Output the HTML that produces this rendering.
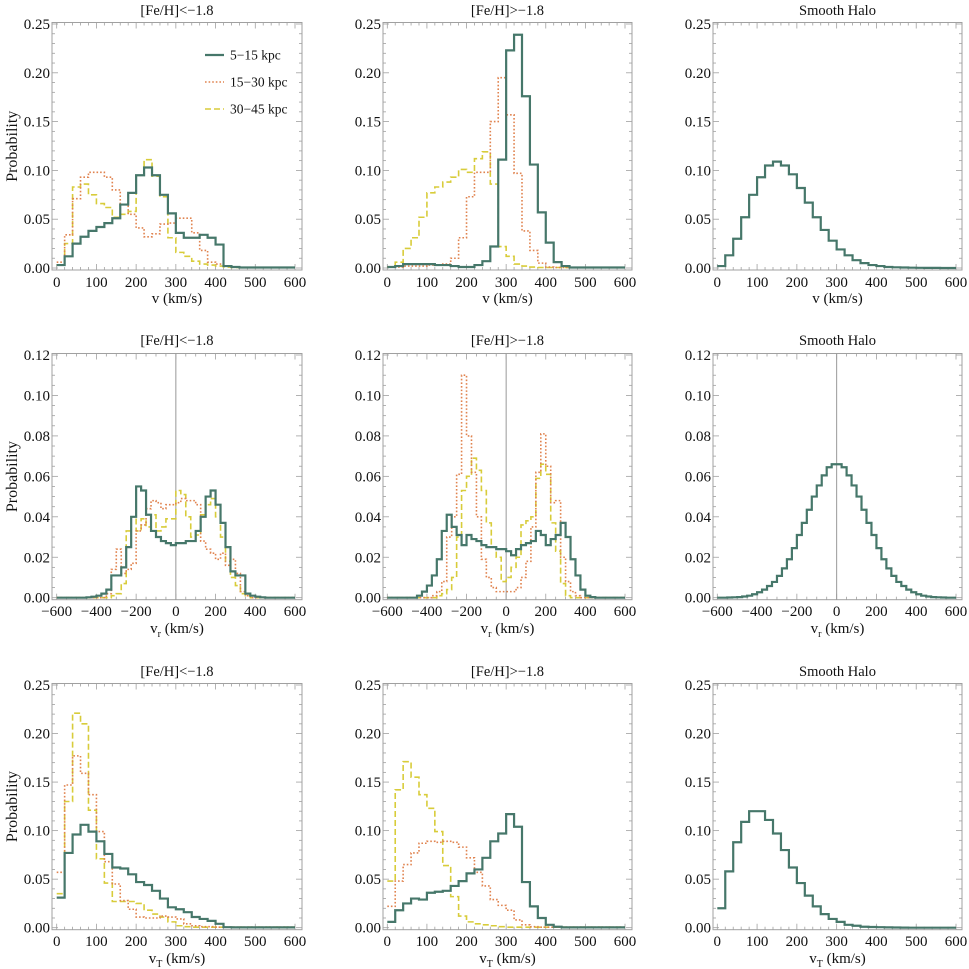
<!DOCTYPE html>
<html><head><meta charset="utf-8"><style>
html,body{margin:0;padding:0;background:#fff;}
svg{display:block;}
svg text{font-family:"Liberation Serif","DejaVu Serif",serif;}
</style></head><body>
<svg id="fig" width="969" height="969" viewBox="0 0 969 969" font-family="Liberation Serif, serif"></svg>
<script>
// ---- data: bin edges start + width ----
const vStart = 0, vWidth = 20;
const vrStart = -600, vrWidth = 25;
const xTicksV = [0,100,200,300,400,500,600];
const xTicksVr = [-600,-400,-200,0,200,400,600];
const yTicksA = [0,0.05,0.10,0.15,0.20,0.25];
const yTicksB = [0,0.02,0.04,0.06,0.08,0.10,0.12];
const seriesNames = ["5\u221215 kpc","15\u221230 kpc","30\u221245 kpc"];
const panelTitles = ["[Fe/H]<\u22121.8","[Fe/H]>\u22121.8","Smooth Halo"];

// row 1: v
const vPoorNear = [0.003,0.012,0.025,0.032,0.038,0.042,0.046,0.051,0.065,0.077,0.095,0.103,0.095,0.075,0.056,0.036,0.031,0.031,0.034,0.031,0.024,0.002,0.001,0.0005,0.0005,0.0005,0.0005,0.0005,0.0005,0.0005];
const vPoorMid = [0.006,0.034,0.071,0.093,0.098,0.098,0.093,0.080,0.065,0.055,0.041,0.032,0.035,0.045,0.046,0.051,0.051,0.036,0.018,0.006,0.004,0.002,0.001,0.0005,0.0005,0.0005,0.0005,0.0005,0.0005,0.0005];
const vPoorFar = [0.003,0.025,0.083,0.086,0.075,0.066,0.062,0.052,0.055,0.058,0.095,0.111,0.094,0.073,0.031,0.016,0.012,0.007,0.004,0.003,0.002,0.001,0.0005,0.0005,0.0005,0.0005,0.0005,0.0005,0.0005,0.0005];
const vRichNear = [0.001,0.002,0.004,0.004,0.004,0.004,0.003,0.003,0.002,0.001,0.001,0.003,0.007,0.022,0.111,0.223,0.239,0.176,0.106,0.057,0.026,0.006,0.002,0.0005,0.0005,0.0005,0.0005,0.0005,0.0005,0.0005];
const vRichMid = [0.001,0.001,0.002,0.002,0.002,0.003,0.003,0.004,0.010,0.031,0.073,0.098,0.098,0.150,0.195,0.157,0.097,0.038,0.018,0.005,0.001,0.0005,0.0005,0.0005,0.0005,0.0005,0.0005,0.0005,0.0005,0.0005];
const vRichFar = [0.001,0.006,0.020,0.031,0.052,0.077,0.083,0.088,0.093,0.101,0.098,0.112,0.119,0.086,0.022,0.012,0.004,0.002,0.001,0.0005,0.0005,0.0005,0.0005,0.0005,0.0005,0.0005,0.0005,0.0005,0.0005,0.0005];
const vSmooth = [0.002,0.013,0.030,0.052,0.075,0.093,0.105,0.109,0.105,0.096,0.082,0.067,0.052,0.039,0.028,0.019,0.013,0.008,0.005,0.003,0.002,0.001,0.0007,0.0005,0.0003,0.0002,0.0001,0.0001,0,0];

// row 2: vr (48 bins from -600)
const vrPoorNear = [0,0,0,0,0,0,0.0002,0.0005,0.001,0.002,0.004,0.011,0.011,0.015,0.025,0.040,0.055,0.053,0.041,0.033,0.030,0.028,0.027,0.026,0.027,0.027,0.028,0.028,0.033,0.040,0.050,0.053,0.046,0.037,0.025,0.013,0.011,0.011,0.002,0.001,0.0005,0.0002,0,0,0,0,0,0];
const vrPoorMid = [0,0,0,0,0,0,0,0,0,0,0.002,0.014,0.024,0.012,0.014,0.017,0.033,0.036,0.044,0.048,0.047,0.044,0.046,0.046,0.047,0.049,0.048,0.048,0.046,0.028,0.024,0.022,0.019,0.022,0.016,0.019,0.012,0.003,0.001,0,0,0,0,0,0,0,0,0];
const vrPoorFar = [0,0,0,0,0,0,0,0,0,0,0,0.001,0.002,0.007,0.033,0.040,0.033,0.039,0.035,0.041,0.033,0.035,0.039,0.039,0.053,0.051,0.040,0.030,0.031,0.041,0.046,0.049,0.040,0.030,0.018,0.010,0.006,0.002,0.001,0,0,0,0,0,0,0,0,0];
const vrRichNear = [0,0,0,0,0,0,0.001,0.003,0.006,0.011,0.019,0.033,0.041,0.035,0.031,0.026,0.031,0.029,0.028,0.026,0.025,0.025,0.024,0.024,0.023,0.021,0.024,0.026,0.027,0.028,0.033,0.031,0.026,0.029,0.031,0.037,0.030,0.019,0.011,0.004,0.001,0.0003,0,0,0,0,0,0];
const vrRichMid = [0,0,0,0,0,0,0,0,0,0.001,0.003,0.008,0.030,0.040,0.061,0.110,0.080,0.062,0.040,0.019,0.010,0.005,0.003,0.003,0.003,0.003,0.005,0.010,0.018,0.035,0.062,0.081,0.065,0.047,0.048,0.020,0.008,0.003,0.001,0,0,0,0,0,0,0,0,0];
const vrRichFar = [0,0,0,0,0,0,0,0,0,0,0.001,0.002,0.004,0.010,0.030,0.053,0.060,0.069,0.063,0.053,0.037,0.025,0.020,0.008,0.010,0.015,0.020,0.036,0.038,0.040,0.059,0.066,0.061,0.037,0.023,0.007,0.001,0,0,0,0,0,0,0,0,0,0,0];
const vrSmooth = [0,0,0.0001,0.0002,0.0003,0.0006,0.001,0.0017,0.0027,0.004,0.0058,0.0078,0.0108,0.0145,0.019,0.0245,0.031,0.037,0.0435,0.050,0.0555,0.0605,0.0645,0.066,0.066,0.0645,0.0605,0.0555,0.050,0.0435,0.037,0.031,0.0245,0.019,0.0145,0.0108,0.0078,0.0058,0.004,0.0027,0.0017,0.001,0.0006,0.0003,0.0002,0.0001,0,0];

// row 3: vT
const vtPoorNear = [0.031,0.077,0.096,0.106,0.099,0.089,0.076,0.062,0.061,0.055,0.047,0.044,0.038,0.030,0.021,0.019,0.016,0.011,0.009,0.007,0.004,0.0005,0.0003,0.0003,0.0003,0.0003,0.0003,0.0003,0.0003,0.0003];
const vtPoorMid = [0.057,0.147,0.177,0.159,0.137,0.099,0.068,0.045,0.028,0.019,0.011,0.010,0.010,0.012,0.011,0.009,0.004,0.002,0.001,0.001,0.0005,0.0005,0.0005,0.0005,0.0005,0.0005,0.0005,0.0005,0.0005,0.0005];
const vtPoorFar = [0.035,0.130,0.221,0.210,0.121,0.071,0.046,0.027,0.027,0.027,0.025,0.018,0.014,0.011,0.006,0.002,0.001,0.0005,0.0005,0.0005,0.0005,0.0005,0.0005,0.0005,0.0005,0.0005,0.0005,0.0005,0.0005,0.0005];
const vtRichNear = [0.006,0.018,0.025,0.030,0.029,0.036,0.037,0.038,0.043,0.048,0.056,0.060,0.072,0.089,0.097,0.117,0.104,0.047,0.022,0.010,0.003,0.001,0.0003,0.0003,0.0003,0.0003,0.0003,0.0003,0.0003,0.0003];
const vtRichMid = [0.022,0.048,0.065,0.077,0.087,0.089,0.088,0.089,0.088,0.083,0.072,0.057,0.043,0.029,0.023,0.018,0.008,0.003,0.001,0.0005,0.0005,0.0005,0.0005,0.0005,0.0005,0.0005,0.0005,0.0005,0.0005,0.0005];
const vtRichFar = [0.048,0.142,0.171,0.155,0.137,0.123,0.099,0.064,0.032,0.012,0.006,0.004,0.003,0.002,0.001,0.0005,0.0005,0.0005,0.0005,0.0005,0.0005,0.0005,0.0005,0.0005,0.0005,0.0005,0.0005,0.0005,0.0005,0.0005];
const vtSmooth = [0.020,0.058,0.088,0.109,0.120,0.120,0.111,0.097,0.080,0.062,0.046,0.033,0.022,0.014,0.009,0.006,0.003,0.002,0.001,0.0007,0.0005,0.0003,0.0002,0.0001,0,0,0,0,0,0];

// ---- layout ----
const NS = "http://www.w3.org/2000/svg";
const svg = document.getElementById('fig');
const FONT = "Liberation Serif, serif";
const cols = [
  {x0:56.7, x1:295, fl:52, fr:302},
  {x0:387.3, x1:625, fl:383, fr:632},
  {x0:717.3, x1:956, fl:713, fr:962}
];
const rows = [
  {y0:268, y1:24, ft:22.5, fb:270, ymax:0.25, yt:yTicksA, ymin:0.01, dec:2, xmin:0, xmax:600, xt:xTicksV, xminor:20, start:vStart, w:vWidth, title:10, xlab:282, xtitle:298, xsub:null},
  {y0:597.7, y1:355, ft:353.5, fb:599.7, ymax:0.12, yt:yTicksB, ymin:0.005, dec:2, xmin:-600, xmax:600, xt:xTicksVr, xminor:50, start:vrStart, w:vrWidth, title:340, xlab:611, xtitle:628, xsub:"r"},
  {y0:927.7, y1:685, ft:683.5, fb:929.7, ymax:0.25, yt:yTicksA, ymin:0.01, dec:2, xmin:0, xmax:600, xt:xTicksV, xminor:20, start:vStart, w:vWidth, title:671, xlab:941, xtitle:958, xsub:"T"}
];
const panelSeries = [
  [[vPoorNear,vPoorMid,vPoorFar],[vRichNear,vRichMid,vRichFar],[vSmooth]],
  [[vrPoorNear,vrPoorMid,vrPoorFar],[vrRichNear,vrRichMid,vrRichFar],[vrSmooth]],
  [[vtPoorNear,vtPoorMid,vtPoorFar],[vtRichNear,vtRichMid,vtRichFar],[vtSmooth]]
];
const styles = [
  {stroke:"#46776a", dash:null, w:2.2},
  {stroke:"#e0834f", dash:"1.6,2", w:1.6},
  {stroke:"#d8cc3a", dash:"6,3", w:1.6}
];
const rowNames = ["speed","radial-velocity","tangential-velocity"];
const colNames = ["metal-poor","metal-rich","smooth-halo"];

function el(tag, attrs, parent){
  const e = document.createElementNS(NS, tag);
  for (const k in attrs) e.setAttribute(k, attrs[k]);
  if (tag === 'text') e.setAttribute('font-family', FONT);
  (parent||svg).appendChild(e);
  return e;
}
function fmtX(v){ return v<0 ? "\u2212"+Math.abs(v) : String(v); }

rows.forEach((R, ri) => {
  cols.forEach((C, ci) => {
    const g = el('g', {});
    
    
    const X = v => C.x0 + (v - R.xmin) / (R.xmax - R.xmin) * (C.x1 - C.x0);
    const Y = v => R.y0 - v / R.ymax * (R.y0 - R.y1);

    const fr = el('rect', {x:C.fl, y:R.ft, width:C.fr-C.fl, height:R.fb-R.ft, fill:'none', stroke:'#a0a0a0', 'stroke-width':1}, g);
    
    

    for (let v = R.xmin; v <= R.xmax + 0.001; v += R.xminor) {
      const major = R.xt.some(t => Math.abs(t - v) < 0.001);
      const L = major ? 6 : 3;
      const x = X(v);
      el('line', {x1:x, y1:R.fb, x2:x, y2:R.fb-L, stroke:'#a0a0a0', 'stroke-width':0.8}, g);
      el('line', {x1:x, y1:R.ft, x2:x, y2:R.ft+L, stroke:'#a0a0a0', 'stroke-width':0.8}, g);
    }
    R.xt.forEach(t => {
      const tx = el('text', {x:X(t), y:R.xlab+5, 'font-size':15, 'text-anchor':'middle', fill:'#111'}, g);
      tx.textContent = fmtX(t);
      
      
    });
    const nMinor = Math.round(R.ymax / R.ymin);
    for (let i = 0; i <= nMinor; i++) {
      const v = i * R.ymin;
      const major = R.yt.some(t => Math.abs(t - v) < 1e-6);
      const L = major ? 6 : 3;
      const y = Y(v);
      el('line', {x1:C.fl, y1:y, x2:C.fl+L, y2:y, stroke:'#a0a0a0', 'stroke-width':0.8}, g);
      el('line', {x1:C.fr, y1:y, x2:C.fr-L, y2:y, stroke:'#a0a0a0', 'stroke-width':0.8}, g);
    }
    R.yt.forEach(t => {
      const ty = el('text', {x:C.fl-2, y:Y(t)+5, 'font-size':15, 'text-anchor':'end', fill:'#111'}, g);
      ty.textContent = t.toFixed(R.dec);
      
      
    });

    if (ri === 1) {
      const zl = el('line', {x1:X(0), y1:R.ft, x2:X(0), y2:R.fb, stroke:'#999', 'stroke-width':1}, g);
      
      
    }

    const sers = panelSeries[ri][ci];
    for (let si = sers.length - 1; si >= 0; si--) {
      const vals = sers[si];
      let d = "";
      vals.forEach((v, i) => {
        const xa = X(R.start + i * R.w), xb = X(R.start + (i + 1) * R.w), y = Y(v);
        d += (i === 0 ? "M" + xa.toFixed(2) + "," + y.toFixed(2) : "V" + y.toFixed(2)) + "H" + xb.toFixed(2);
      });
      const st = styles[si];
      const p = el('path', {d:d, fill:'none', stroke:st.stroke, 'stroke-width':st.w, 'stroke-linejoin':'miter'}, g);
      if (st.dash) p.setAttribute('stroke-dasharray', st.dash);
      
      
    }

    const tt = el('text', {x:(C.fl+C.fr)/2, y:R.title+5, 'font-size':14.5, 'text-anchor':'middle', fill:'#111'}, g);
    tt.textContent = panelTitles[ci];
    
    

    const xt = el('text', {x:(C.fl+C.fr)/2, y:R.xtitle+5, 'font-size':15, 'text-anchor':'middle', fill:'#111'}, g);
    
    
    const t1 = el('tspan', {}, xt); t1.textContent = "v";
    if (R.xsub) { const t2 = el('tspan', {'font-size':10, dy:4}, xt); t2.textContent = R.xsub; }
    const t3 = el('tspan', {dy: R.xsub ? -4 : 0}, xt); t3.textContent = " (km/s)";

    if (ci === 0) {
      const yc = (R.ft + R.fb) / 2;
      const yl = el('text', {x:0, y:0, transform:'translate(17,' + yc + ') rotate(-90)', 'font-size':16, 'text-anchor':'middle', fill:'#111'}, g);
      yl.textContent = "Probability";
      
      
    }
  });
});

const lg = el('g', {});


const legendYs = [55, 82, 109];
seriesNames.forEach((n, i) => {
  const st = styles[i];
  const ln = el('line', {x1:205, y1:legendYs[i], x2:224, y2:legendYs[i], stroke:st.stroke, 'stroke-width':st.w}, lg);
  if (st.dash) ln.setAttribute('stroke-dasharray', st.dash);
  
  
  const tx = el('text', {x:230, y:legendYs[i]+4.5, 'font-size':13.5, fill:'#111'}, lg);
  tx.textContent = n;
  
  
});
</script>
</body></html>
